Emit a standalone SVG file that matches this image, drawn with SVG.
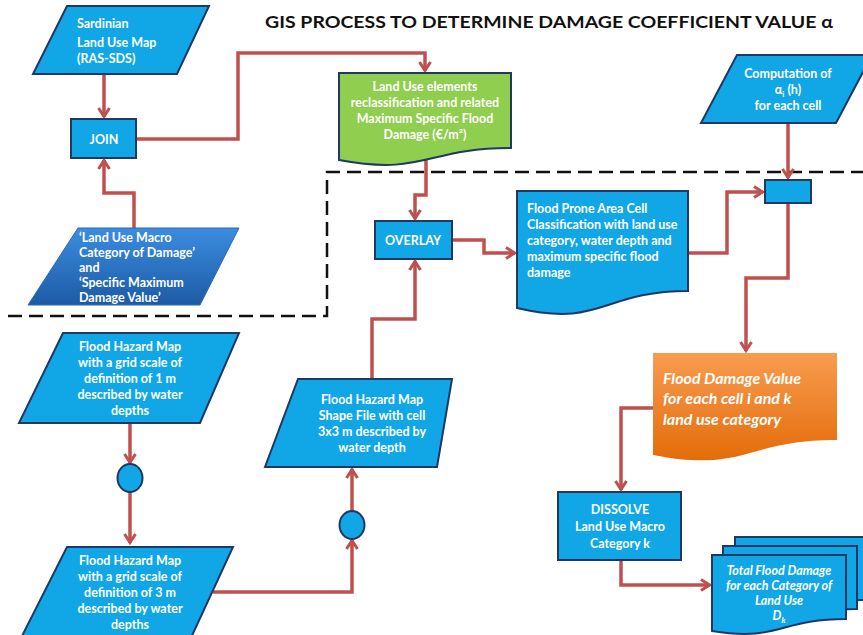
<svg xmlns="http://www.w3.org/2000/svg" width="863" height="635" viewBox="0 0 863 635">
<style>
.box{fill:#11a7e6;stroke:#1f3864;stroke-width:2}
.t{font-family:Lato,"Liberation Sans",sans-serif;font-weight:bold;font-size:12.5px;fill:#fff}
.c{text-anchor:middle}
.it{font-style:italic}
.big{font-size:16px}
.sm{font-size:12.5px}
.con{fill:none;stroke:#c0504d;stroke-width:3.5;stroke-linejoin:miter}
.dash{fill:none;stroke:#111;stroke-width:2.5;stroke-dasharray:14 7}
</style>
<defs>
<marker id="ah" viewBox="0 0 12 14" markerWidth="12" markerHeight="14" refX="10.5" refY="7" orient="auto" markerUnits="userSpaceOnUse">
<path d="M1.5,1.5 L10,7 L1.5,12.5" fill="none" stroke="#c0504d" stroke-width="3"/>
</marker>
<linearGradient id="gOr" x1="0" y1="0" x2="0" y2="1">
<stop offset="0" stop-color="#f89c50"/><stop offset="1" stop-color="#e46c0a"/>
</linearGradient>
<linearGradient id="gBl" x1="0" y1="0" x2="0" y2="1">
<stop offset="0" stop-color="#3b8de0"/><stop offset="1" stop-color="#1d5aa5"/>
</linearGradient>
</defs>
<rect width="863" height="635" fill="#fff"/>
<text x="549" y="28" text-anchor="middle" font-family="Lato,'Liberation Sans',sans-serif" font-weight="bold" font-size="17" fill="#111" textLength="568" lengthAdjust="spacingAndGlyphs">GIS PROCESS TO DETERMINE DAMAGE COEFFICIENT VALUE α</text>

<g id="dashed">
<path class="dash" d="M8,316 H327 V172 H863"/>
</g>

<g id="connectors">
<path class="con" d="M104,74 V117" marker-end="url(#ah)"/>
<path class="con" d="M134,228 V193 H104 V160" marker-end="url(#ah)"/>
<path class="con" d="M136,139 H238 V53 H425 V71" marker-end="url(#ah)"/>
<path class="con" d="M426,160 V195 H415 V219" marker-end="url(#ah)"/>
<path class="con" d="M452,240 H484 V253 H515" marker-end="url(#ah)"/>
<path class="con" d="M688,253 H727 V192 H763" marker-end="url(#ah)"/>
<path class="con" d="M788,123 V178" marker-end="url(#ah)"/>
<path class="con" d="M788,203 V278 H746 V351" marker-end="url(#ah)"/>
<path class="con" d="M653,408 H621 V490" marker-end="url(#ah)"/>
<path class="con" d="M621,560 V585 H710" marker-end="url(#ah)"/>
<path class="con" d="M130,423 V463" marker-end="url(#ah)"/>
<path class="con" d="M130,492 V543" marker-end="url(#ah)"/>
<path class="con" d="M213,592 H352 V540" marker-end="url(#ah)"/>
<path class="con" d="M352,511 V469" marker-end="url(#ah)"/>
<path class="con" d="M372,379 V319 H415 V261" marker-end="url(#ah)"/>
</g>

<g id="sardinian">
<polygon class="box" points="67,6 209,6 177,74 33,74"/>
<text class="t" x="77" y="28">Sardinian</text>
<text class="t" x="77" y="47">Land Use Map</text>
<text class="t" x="77" y="63">(RAS-SDS)</text>
</g>

<g id="join">
<rect class="box" x="71" y="119" width="65" height="39"/>
<text class="t c" x="104" y="144">JOIN</text>
</g>

<g id="macro">
<polygon points="78,228 239,228 200,305 28,305" fill="url(#gBl)" stroke="#2a6bb8" stroke-width="1"/>
<text class="t" x="79" y="242">‘Land Use Macro</text>
<text class="t" x="79" y="257">Category of Damage’</text>
<text class="t" x="79" y="272">and</text>
<text class="t" x="79" y="287">‘Specific Maximum</text>
<text class="t" x="79" y="302">Damage Value’</text>
</g>

<g id="landuse">
<path d="M339,73 H511 V148 C425,148 425,176 339,160 Z" fill="#8fce4f" stroke="#1f3864" stroke-width="2"/>
<text class="t c" x="425" y="91">Land Use elements</text>
<text class="t c" x="425" y="107">reclassification and related</text>
<text class="t c" x="425" y="123">Maximum Specific Flood</text>
<text class="t c" x="425" y="139">Damage (€/m²)</text>
</g>

<g id="overlay">
<rect class="box" x="375" y="221" width="77" height="38"/>
<text class="t c" x="413" y="245">OVERLAY</text>
</g>

<g id="floodprone">
<path class="box" d="M517,191 H688 V291 C602,291 602,328 517,308 Z"/>
<text class="t" x="527" y="213">Flood Prone Area Cell</text>
<text class="t" x="527" y="229">Classification with land use</text>
<text class="t" x="527" y="245">category, water depth and</text>
<text class="t" x="527" y="261">maximum specific flood</text>
<text class="t" x="527" y="277">damage</text>
</g>

<g id="computation">
<polygon class="box" points="737,55 872,55 836,123 701,123"/>
<text class="t c" x="788" y="78">Computation of</text>
<text class="t c" x="788" y="94">α<tspan font-size="8" dy="3">i</tspan><tspan dy="-3"> (h)</tspan></text>
<text class="t c" x="788" y="110">for each cell</text>
</g>

<g id="junction">
<rect class="box" x="765" y="180" width="46" height="23"/>
</g>

<g id="flooddamage">
<path d="M653,353 H837 V440 C745,440 745,473 653,455 Z" fill="url(#gOr)"/>
<text class="t it big" x="663" y="384">Flood Damage Value</text>
<text class="t it big" x="663" y="404">for each cell i and k</text>
<text class="t it big" x="663" y="425">land use category</text>
</g>

<g id="dissolve">
<rect class="box" x="558" y="492" width="123" height="68"/>
<text class="t c" x="620" y="514">DISSOLVE</text>
<text class="t c" x="620" y="531">Land Use Macro</text>
<text class="t c" x="620" y="548">Category k</text>
</g>

<g id="total">
<path class="box" d="M735,537 H870 V600 C800,600 800,620 735,615 Z"/>
<path class="box" d="M723,546 H857 V609 C790,609 790,630 723,624 Z"/>
<path class="box" d="M712,555 H846 V619 C779,619 779,642 712,631 Z"/>
<text class="t c it sm" x="779" y="575">Total Flood Damage</text>
<text class="t c it sm" x="779" y="590">for each Category of</text>
<text class="t c it sm" x="779" y="605">Land Use</text>
<text class="t c it sm" x="779" y="620">D<tspan font-size="8" dy="3">k</tspan></text>
</g>

<g id="fhm1">
<polygon class="box" points="63,333 239,333 200,423 19,423"/>
<text class="t c" x="130" y="351">Flood Hazard Map</text>
<text class="t c" x="130" y="367">with a grid scale of</text>
<text class="t c" x="130" y="383">definition of 1 m</text>
<text class="t c" x="130" y="399">described by water</text>
<text class="t c" x="130" y="415">depths</text>
</g>

<g id="circle1">
<ellipse class="box" cx="130" cy="478" rx="12.5" ry="14"/>
</g>

<g id="fhm3">
<polygon class="box" points="67,547 233,547 190,640 20,640"/>
<text class="t c" x="130" y="565">Flood Hazard Map</text>
<text class="t c" x="130" y="581">with a grid scale of</text>
<text class="t c" x="130" y="597">definition of 3 m</text>
<text class="t c" x="130" y="613">described by water</text>
<text class="t c" x="130" y="629">depths</text>
</g>

<g id="circle2">
<ellipse class="box" cx="352" cy="525" rx="12.5" ry="14"/>
</g>

<g id="shapefile">
<polygon class="box" points="298,379 452,379 437,467 265,467"/>
<text class="t c" x="372" y="404">Flood Hazard Map</text>
<text class="t c" x="372" y="420">Shape File with cell</text>
<text class="t c" x="372" y="436">3x3 m described by</text>
<text class="t c" x="372" y="452">water depth</text>
</g>
</svg>
